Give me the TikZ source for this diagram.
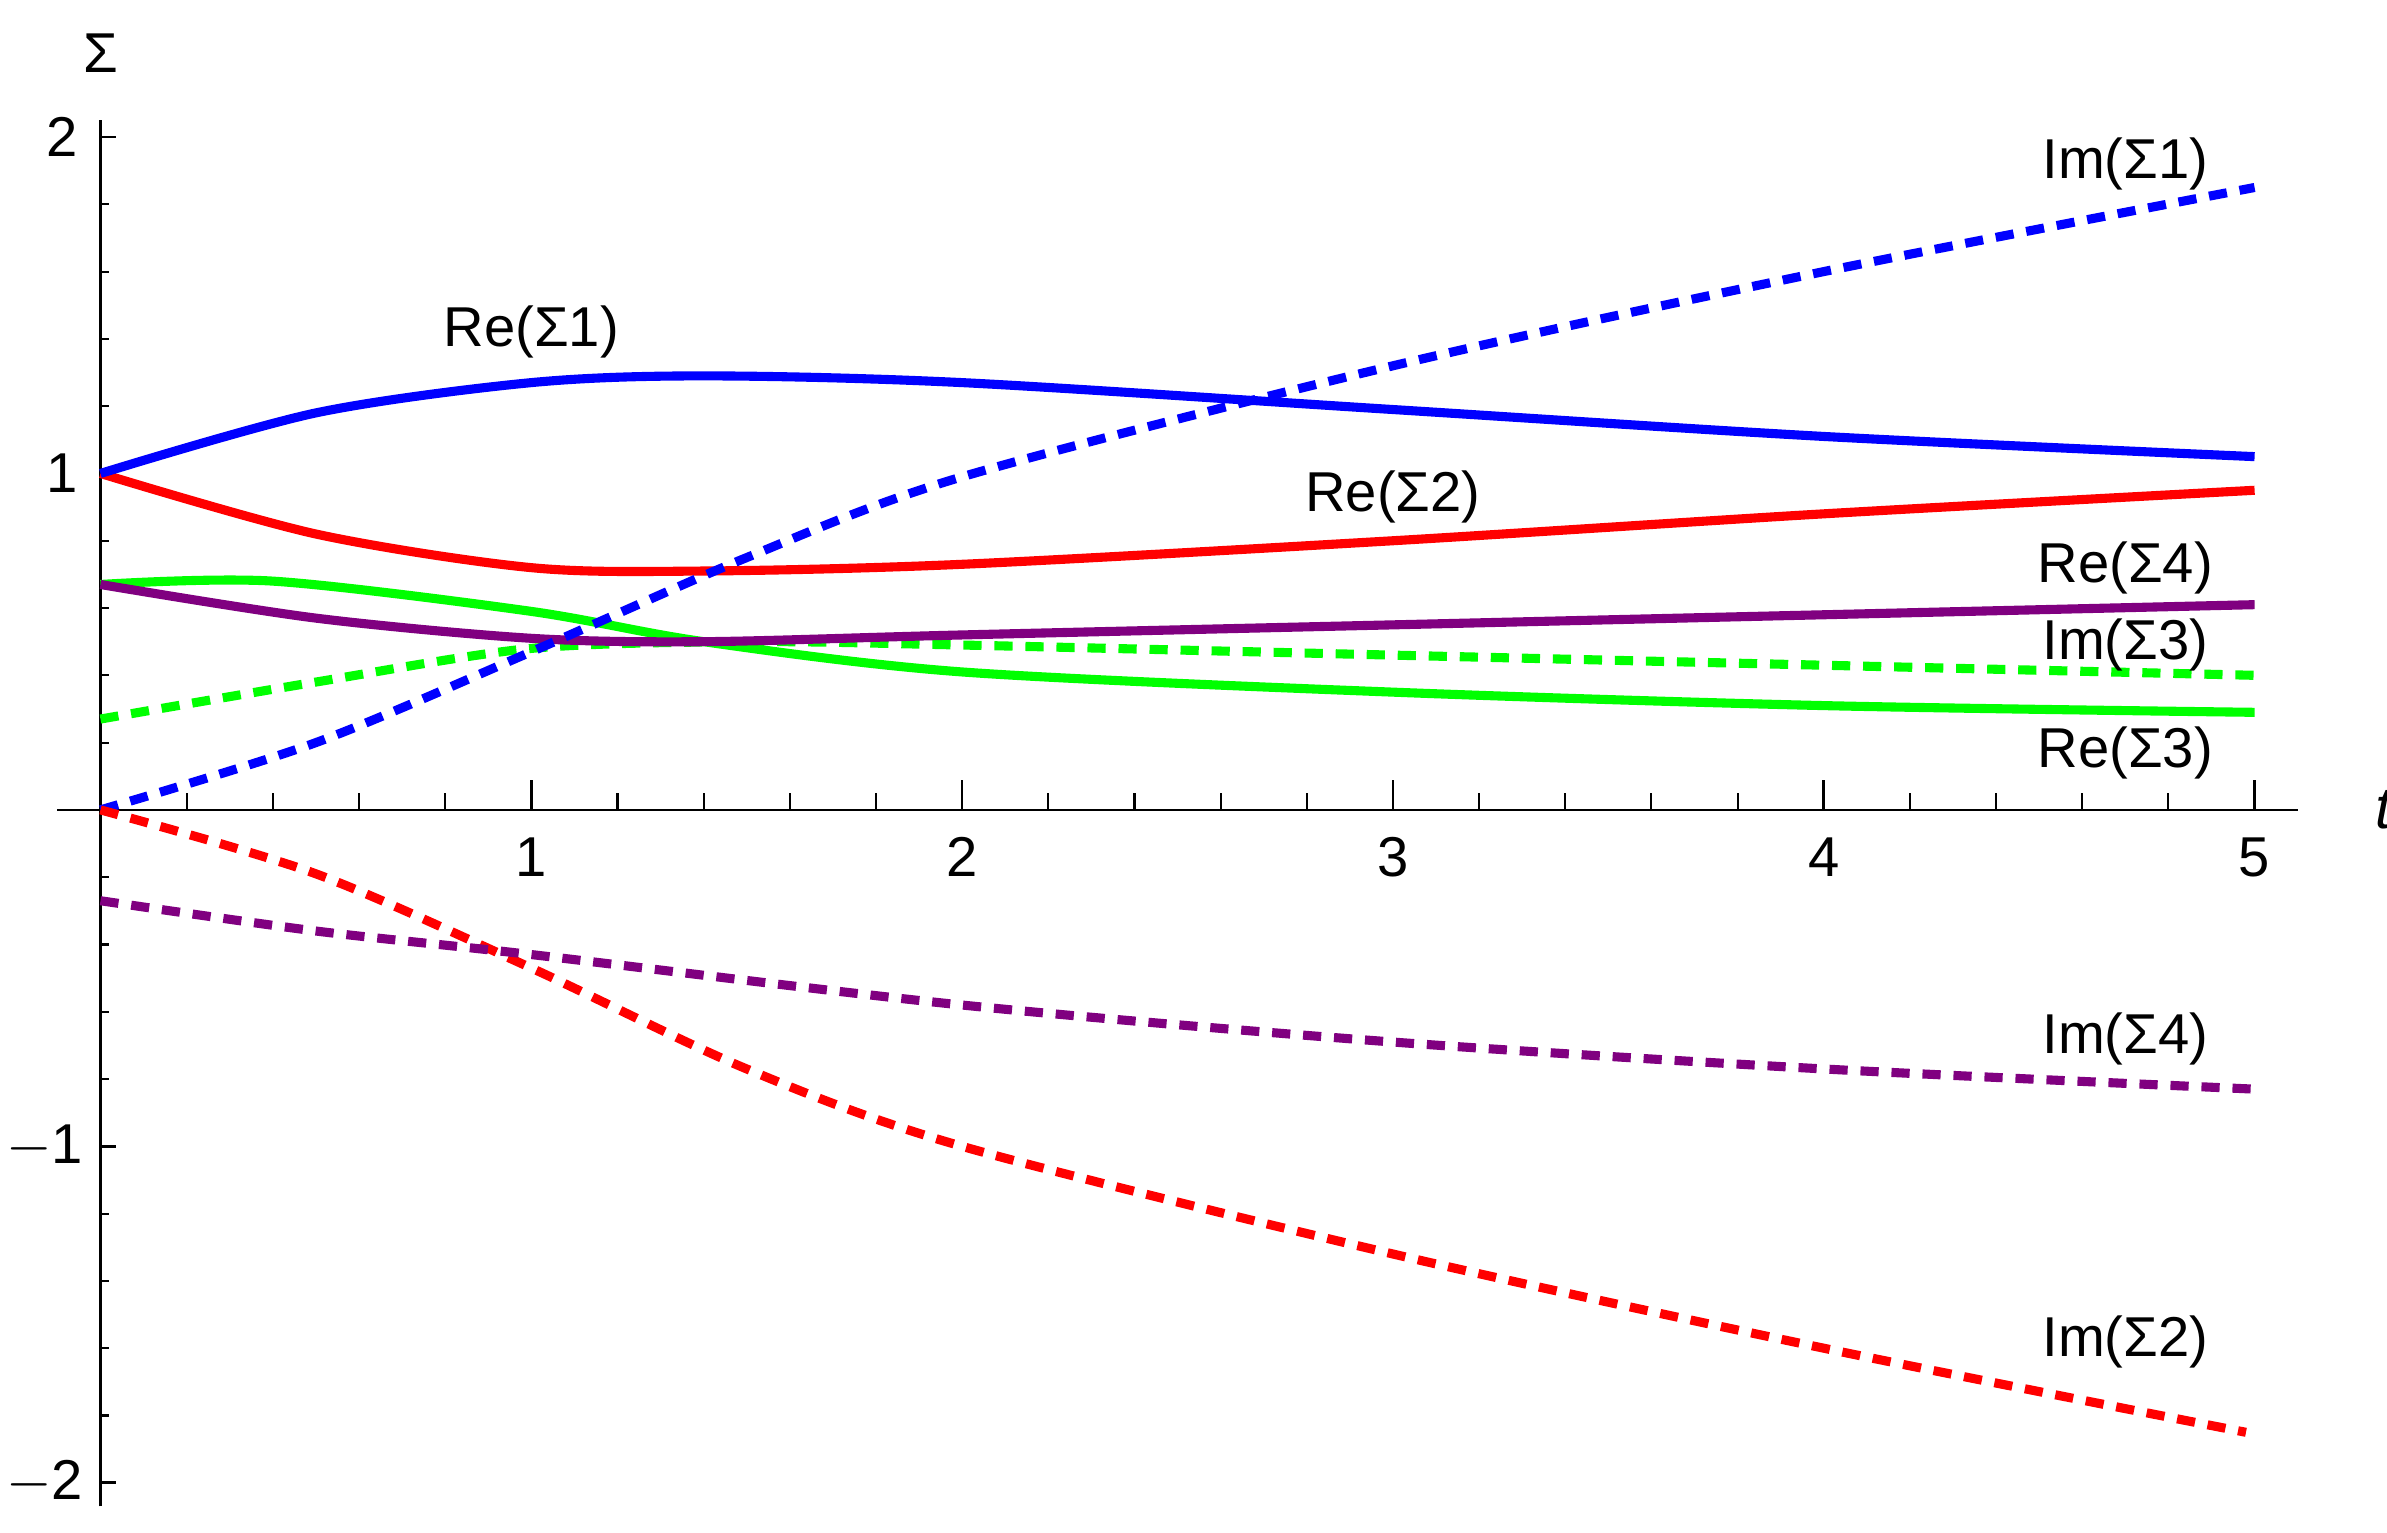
\documentclass[tikz,border=0pt]{standalone}
\usepackage{fontspec}
\setmainfont{Liberation Sans}
\begin{document}
\begin{tikzpicture}[
  lab/.style={font=\fontsize{10.5}{12}\selectfont},
  sol/.style={line width=1.7pt},
  dsh/.style={line width=1.7pt, dash pattern=on 3.4pt off 2.4pt},
  mpurple/.style={color={rgb,1:red,0.5;green,0;blue,0.5}}
]
\useasboundingbox (0,0) rectangle (15.68,-10.07);
\begin{scope}[shift={(0.66,-5.32)}, x=2.83cm, y=2.21cm]
% axes
\draw[line width=0.5pt] (-0.1,0) -- (5.1,0);
\draw[line width=0.5pt] (0,-2.07) -- (0,2.05);
\foreach \t in {1,...,5} \draw[line width=0.5pt] (\t,0) -- ++(0,0.09);
\foreach \t in {0.2,0.4,...,4.9} \draw[line width=0.4pt] (\t,0) -- ++(0,0.05);
\foreach \s in {-2,-1,1,2} \draw[line width=0.5pt] (0,\s) -- ++(0.035,0);
\foreach \s in {-1.8,-1.6,...,1.9} \draw[line width=0.4pt] (0,\s) -- ++(0.02,0);
\foreach \t in {1,...,5} \node[lab] (xl\t) at (\t,-0.14) {\t};
\node[lab] (y2) at (-0.09,2) {2};
\node[lab] (y1) at (-0.09,1) {1};
\node[lab] (ym1) at (-0.13,-1) {$-$1};
\node[lab] (ym2) at (-0.13,-2) {$-$2};
\node[lab, font=\fontsize{11}{12}\selectfont\itshape] (tl) at (5.3,0) {t};
\node[lab] (sl) at (0,2.25) {Σ};
% curves
\draw[dsh, green] plot[smooth] coordinates {(0,0.27)(0.5,0.38)(1,0.48)(1.5,0.50)(2,0.49)(3,0.46)(4,0.43)(5,0.40)};
\draw[sol, green] plot[smooth] coordinates {(0,0.67)(0.4,0.68)(1,0.59)(1.4,0.50)(2,0.41)(3,0.35)(4,0.31)(5,0.29)};
\draw[sol, mpurple] plot[smooth] coordinates {(0,0.67)(0.5,0.57)(1,0.51)(1.4,0.50)(2,0.52)(3,0.55)(4,0.58)(5,0.61)};
\draw[sol, red] plot[smooth] coordinates {(0,1)(0.5,0.82)(1,0.72)(1.4,0.71)(2,0.73)(3,0.80)(4,0.88)(5,0.95)};
\draw[sol, blue] plot[smooth] coordinates {(0,1)(0.5,1.18)(1,1.27)(1.4,1.29)(2,1.27)(3,1.19)(4,1.11)(5,1.05)};
\draw[dsh, blue] plot[smooth] coordinates {(0,0)(0.5,0.2)(1,0.47)(1.5,0.75)(2,0.99)(3,1.32)(4,1.6)(5,1.85)};
\draw[dsh, red] plot[smooth] coordinates {(0,0)(0.5,-0.19)(1,-0.47)(1.5,-0.77)(2,-1.0)(3,-1.32)(4,-1.6)(4.98,-1.85)};
\draw[dsh, mpurple] plot[smooth] coordinates {(0,-0.27)(0.5,-0.36)(1,-0.43)(2,-0.58)(3,-0.69)(4,-0.77)(5,-0.83)};
% labels
\node[lab] (r1) at (1,1.42) {Re(Σ1)};
\node[lab] (i1) at (4.7,1.92) {Im(Σ1)};
\node[lab] (r2) at (3,0.93) {Re(Σ2)};
\node[lab] (r4) at (4.7,0.72) {Re(Σ4)};
\node[lab] (i3) at (4.7,0.49) {Im(Σ3)};
\node[lab] (r3) at (4.7,0.17) {Re(Σ3)};
\node[lab] (i4) at (4.7,-0.68) {Im(Σ4)};
\node[lab] (i2) at (4.7,-1.58) {Im(Σ2)};
\end{scope}
\end{tikzpicture}
\end{document}
